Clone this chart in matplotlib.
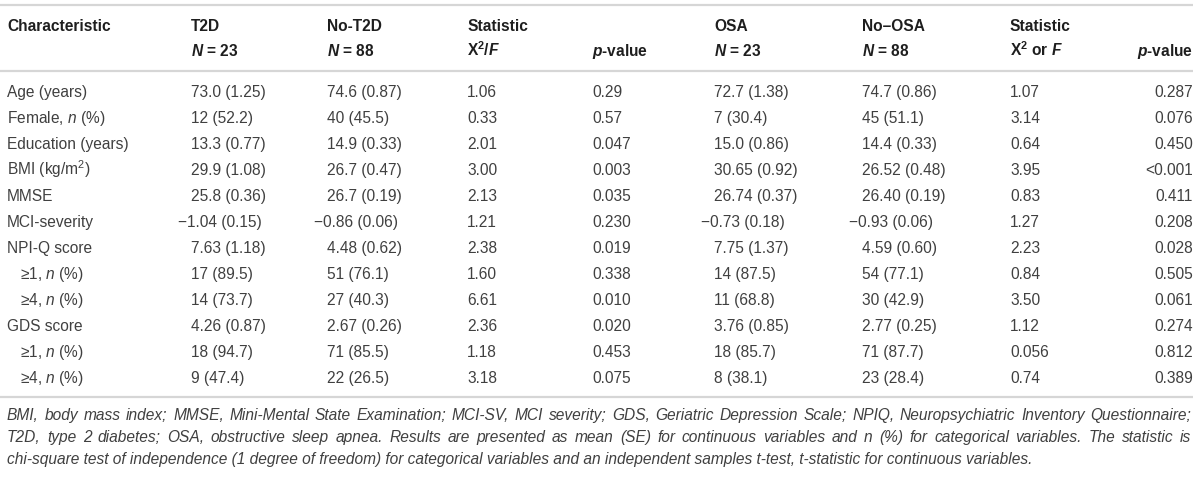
import matplotlib
matplotlib.use("Agg")
import matplotlib.pyplot as plt

plt.rcParams['font.family'] = ['Liberation Sans', 'DejaVu Sans']
plt.rcParams['mathtext.fontset'] = 'custom'
plt.rcParams['mathtext.rm'] = 'Liberation Sans'
plt.rcParams['mathtext.it'] = 'Liberation Sans:italic'
plt.rcParams['mathtext.bf'] = 'Liberation Sans:bold'
plt.rcParams['mathtext.bfit'] = 'Liberation Sans:italic:bold'

# ---------------- data ----------------
header1 = ["Characteristic", "T2D", "No-T2D", "Statistic", "", "OSA", "No\u2013OSA", "Statistic", ""]
header2 = ["", r"$\mathbfit{N}$ = 23", r"$\mathbfit{N}$ = 88", r"X$^{\mathbf{2}}$/$\mathbfit{F}$",
           r"$\mathbfit{p}$-value", r"$\mathbfit{N}$ = 23", r"$\mathbfit{N}$ = 88",
           r"X$^{\mathbf{2}}$ or $\mathbfit{F}$", r"$\mathbfit{p}$-value"]

GE = "\u2265"
characteristics = ["Age (years)", r"Female, $\mathit{n}$ (%)", "Education (years)",
                   r"BMI (kg/m$^{\mathrm{2}}$)", "MMSE", "MCI-severity", "NPI-Q score",
                   GE + r"1, $\mathit{n}$ (%)", GE + r"4, $\mathit{n}$ (%)", "GDS score",
                   GE + r"1, $\mathit{n}$ (%)", GE + r"4, $\mathit{n}$ (%)"]
indented = [0, 0, 0, 0, 0, 0, 0, 1, 1, 0, 1, 1]

t2d = ["73.0 (1.25)", "12 (52.2)", "13.3 (0.77)", "29.9 (1.08)", "25.8 (0.36)", "\u22121.04 (0.15)",
       "7.63 (1.18)", "17 (89.5)", "14 (73.7)", "4.26 (0.87)", "18 (94.7)", "9 (47.4)"]
no_t2d = ["74.6 (0.87)", "40 (45.5)", "14.9 (0.33)", "26.7 (0.47)", "26.7 (0.19)", "\u22120.86 (0.06)",
          "4.48 (0.62)", "51 (76.1)", "27 (40.3)", "2.67 (0.26)", "71 (85.5)", "22 (26.5)"]
stat_t2d = ["1.06", "0.33", "2.01", "3.00", "2.13", "1.21", "2.38", "1.60", "6.61", "2.36", "1.18", "3.18"]
p_t2d = ["0.29", "0.57", "0.047", "0.003", "0.035", "0.230", "0.019", "0.338", "0.010", "0.020",
         "0.453", "0.075"]
osa = ["72.7 (1.38)", "7 (30.4)", "15.0 (0.86)", "30.65 (0.92)", "26.74 (0.37)", "\u22120.73 (0.18)",
       "7.75 (1.37)", "14 (87.5)", "11 (68.8)", "3.76 (0.85)", "18 (85.7)", "8 (38.1)"]
no_osa = ["74.7 (0.86)", "45 (51.1)", "14.4 (0.33)", "26.52 (0.48)", "26.40 (0.19)", "\u22120.93 (0.06)",
          "4.59 (0.60)", "54 (77.1)", "30 (42.9)", "2.77 (0.25)", "71 (87.7)", "23 (28.4)"]
stat_osa = ["1.07", "3.14", "0.64", "3.95", "0.83", "1.27", "2.23", "0.84", "3.50", "1.12", "0.056", "0.74"]
p_osa = ["0.287", "0.076", "0.450", "<0.001", "0.411", "0.208", "0.028", "0.505", "0.061", "0.274",
         "0.812", "0.389"]

footnote = [
    "BMI, body mass index; MMSE, Mini-Mental State Examination; MCI-SV, MCI severity; GDS, Geriatric Depression Scale; NPIQ, Neuropsychiatric Inventory Questionnaire;",
    "T2D, type 2 diabetes; OSA, obstructive sleep apnea. Results are presented as mean (SE) for continuous variables and n (%) for categorical variables. The statistic is",
    "chi-square test of independence (1 degree of freedom) for categorical variables and an independent samples t-test, t-statistic for continuous variables.",
]
footnote_justified = [True, True, False]

# ---------------- layout ----------------
W, H = 1200, 479
fig = plt.figure(figsize=(W / 100, H / 100), dpi=100)
ax = fig.add_axes([0, 0, 1, 1])
ax.set_xlim(0, W)
ax.set_ylim(H, 0)
ax.axis("off")
renderer = fig.canvas.get_renderer()

col_x = [7, 191, 327, 467, 592, 714, 862, 1010, 1193]
col_ha = ["left"] * 8 + ["right"]
y_h1, y_h2 = 31, 56          # baselines
y_row0, dy = 97, 26          # baselines
body_col = "#404040"
head_col = "#1e1e1e"
line_col = "#d6d6d6"
fs = 11.2
fs_note = 11.2

n = len(characteristics)
y_last = y_row0 + (n - 1) * dy
for yl in (5, 71, y_last + 14):
    ax.plot([0, 1193], [yl, yl], color=line_col, lw=1.6, solid_capstyle="butt")

for x, ha, t in zip(col_x, col_ha, header1):
    ax.text(x, y_h1, t, ha=ha, va="baseline", fontsize=fs, fontweight="bold", color=head_col)
for x, ha, t in zip(col_x, col_ha, header2):
    ax.text(x, y_h2, t, ha=ha, va="baseline", fontsize=fs, fontweight="bold", color=head_col)

columns = [t2d, no_t2d, stat_t2d, p_t2d, osa, no_osa, stat_osa, p_osa]
for i in range(n):
    y = y_row0 + i * dy
    ax.text(col_x[0] + 13 * indented[i], y, characteristics[i], ha="left", va="baseline",
            fontsize=fs, color=body_col)
    for j, col in enumerate(columns):
        s = col[i]
        x = col_x[j + 1]
        ha = col_ha[j + 1]
        if ha == "left" and s.startswith("\u2212"):
            x -= 13
        ax.text(x, y, s, ha=ha, va="baseline", fontsize=fs, color=body_col)

# footnote (justified like the source)
x_left, x_right = 7, 1191
y_f0 = y_last + 37
for k, (line, just) in enumerate(zip(footnote, footnote_justified)):
    yb = y_f0 + 22 * k
    if not just:
        ax.text(x_left, yb, line, ha="left", va="baseline", fontsize=fs_note, style="italic",
                color=body_col)
        continue
    words = line.split(" ")
    texts, widths = [], []
    for w in words:
        t = ax.text(0, yb, w, ha="left", va="baseline", fontsize=fs_note, style="italic",
                    color=body_col)
        widths.append(t.get_window_extent(renderer).width)
        texts.append(t)
    gap = (x_right - x_left - sum(widths)) / (len(words) - 1)
    x = x_left
    for t, wd in zip(texts, widths):
        t.set_x(x)
        x += wd + gap

fig.savefig("out.png", dpi=100, facecolor="white")
